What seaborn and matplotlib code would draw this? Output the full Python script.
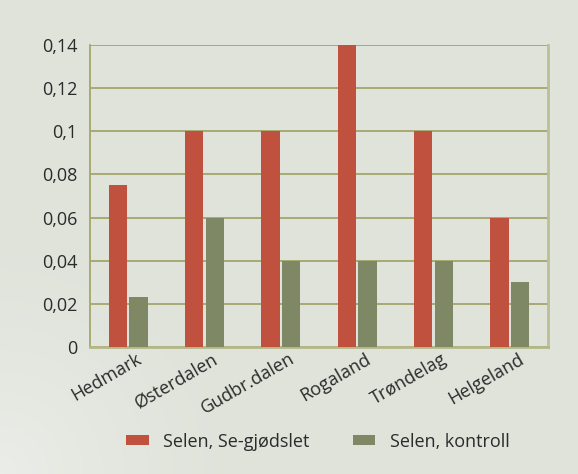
import matplotlib
matplotlib.use("Agg")
import matplotlib.pyplot as plt
import matplotlib.transforms as mtrans
import seaborn as sns
import pandas as pd
import numpy as np

regions = ["Hedmark", "Østerdalen", "Gudbr.dalen", "Rogaland", "Trøndelag", "Helgeland"]
series_names = ["Selen, Se-gjødslet", "Selen, kontroll"]
se_fertilized = [0.075, 0.1, 0.1, 0.14, 0.1, 0.06]
se_control = [0.023, 0.06, 0.04, 0.04, 0.04, 0.03]
y_ticks = [0, 0.02, 0.04, 0.06, 0.08, 0.10, 0.12, 0.14]
y_tick_labels = ["0", "0,02", "0,04", "0,06", "0,08", "0,1", "0,12", "0,14"]

df = pd.DataFrame({
    "region": regions * 2,
    "serie": [series_names[0]] * len(regions) + [series_names[1]] * len(regions),
    "selen": se_fertilized + se_control,
})

sns.set_theme(style="white")
plt.rcParams["font.family"] = ["Open Sans", "DejaVu Sans"]

bg = "#dfe3da"
grid_col = "#a4a66c"
text_col = "#2b2b2b"
palette = {series_names[0]: "#c0513e", series_names[1]: "#7e8864"}

fig = plt.figure(figsize=(5.78, 4.74), dpi=100, facecolor=bg)

# soft light haze in the lower-left of the page
haze_ax = fig.add_axes([0, 0, 1, 1], zorder=-5)
yy, xx = np.mgrid[0:1:200j, 0:1:240j]
haze = np.clip(1.0 - np.hypot(xx / 0.45, (yy) / 0.55), 0, 1) ** 1.5
rgba = np.zeros((200, 240, 4))
rgba[..., :3] = 1.0
rgba[..., 3] = 0.38 * haze
haze_ax.imshow(rgba, extent=[0, 1, 0, 1], origin="lower", aspect="auto")
haze_ax.axis("off")

ax = fig.add_axes([0.1557, 0.268, 0.7924, 0.637])
ax.set_facecolor("none")

sns.barplot(data=df, x="region", y="selen", hue="serie", palette=palette,
            width=0.54, gap=0.12, ax=ax, saturation=1, legend=True,
            linewidth=0, edgecolor="none", zorder=3)

ax.set_ylim(0, 0.14)
ax.set_xlim(-0.5, len(regions) - 0.5)
ax.set_yticks(y_ticks)
ax.set_yticklabels(y_tick_labels, fontsize=13, color=text_col)
ax.yaxis.grid(True, color=grid_col, linewidth=1.3, zorder=0)
ax.set_axisbelow(True)
ax.tick_params(axis="both", length=0)
ax.tick_params(axis="y", pad=9)
ax.set_xlabel("")
ax.set_ylabel("")

ax.spines["top"].set_visible(False)
ax.spines["left"].set_color(grid_col)
ax.spines["left"].set_linewidth(1.3)
ax.spines["bottom"].set_color("#b4b887")
ax.spines["bottom"].set_linewidth(2)
ax.spines["right"].set_color("#bcbf96")
ax.spines["right"].set_linewidth(2)

ax.set_xticks(range(len(regions)))
ax.set_xticklabels(regions, rotation=30, ha="right", rotation_mode="anchor",
                   fontsize=13, color=text_col)
offset = mtrans.ScaledTranslation(8 / 100, 2 / 100, fig.dpi_scale_trans)
for lbl in ax.get_xticklabels():
    lbl.set_transform(lbl.get_transform() + offset)

handles, labels = ax.get_legend_handles_labels()
ax.legend_.remove()
fig.legend(handles, labels, loc="center", bbox_to_anchor=(0.55, 0.068),
           ncol=2, frameon=False, fontsize=13, handlelength=1.25,
           handleheight=0.45, columnspacing=2.4, handletextpad=0.8,
           labelcolor=text_col)

fig.savefig("out.png", dpi=100, facecolor=bg)
